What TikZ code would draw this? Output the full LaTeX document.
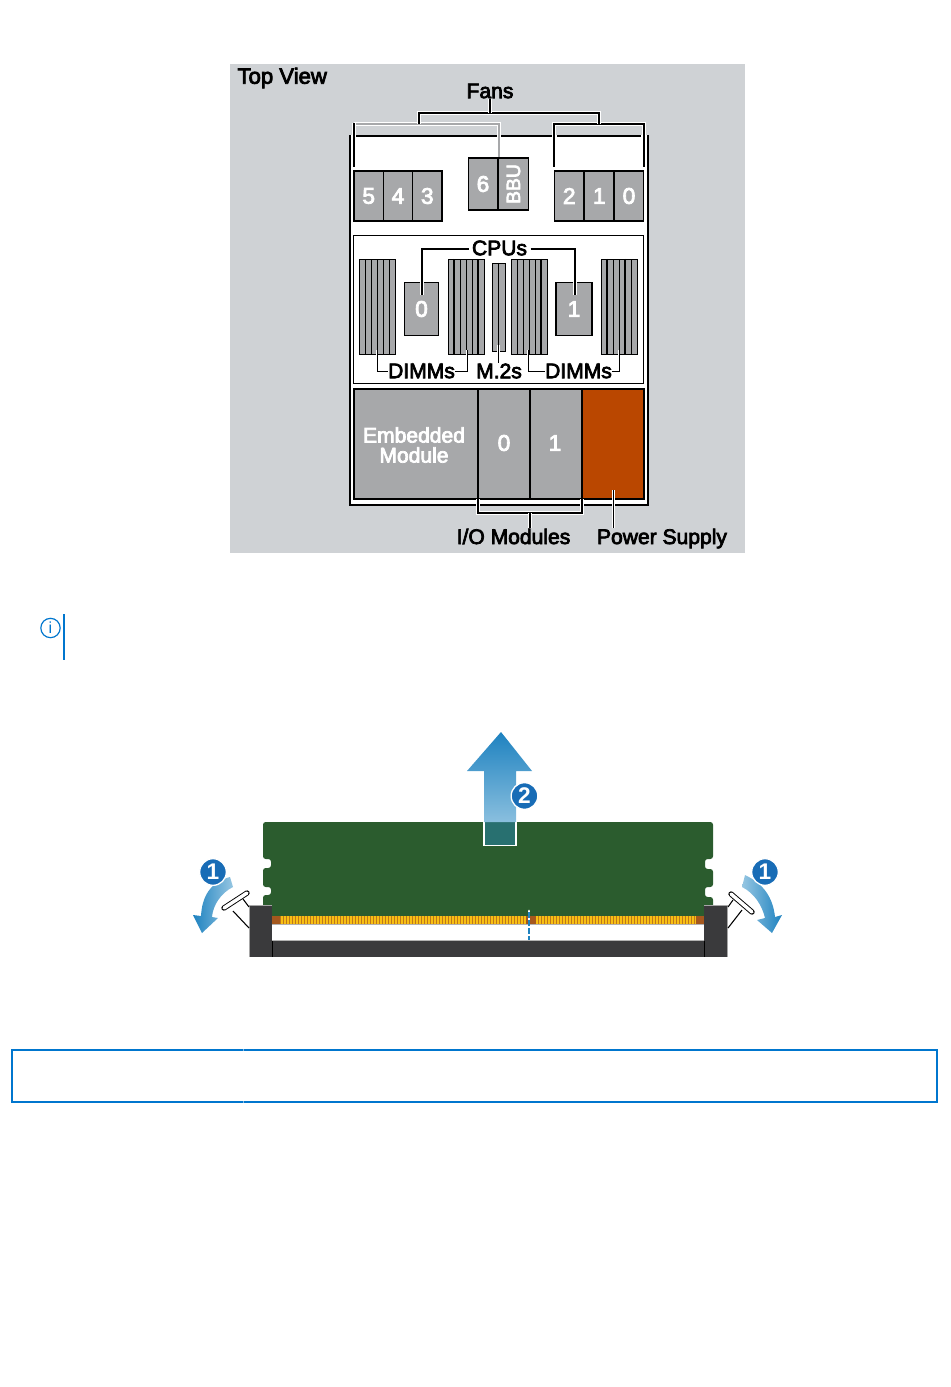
\documentclass[tikz,border=0pt]{standalone}
\usepackage{fontspec}
\setmainfont{Liberation Sans}
\newfontfamily\heavyfont{Liberation Sans}[FakeBold=3.5]
\definecolor{panelgray}{RGB}{207,210,213}
\definecolor{modgray}{RGB}{167,168,170}
\definecolor{psuorange}{RGB}{186,71,0}
\definecolor{infoblue}{RGB}{0,118,206}
\definecolor{badgeblue}{RGB}{24,108,182}
\definecolor{arrowblue}{RGB}{30,130,192}
\definecolor{arrowlight}{RGB}{150,198,226}
\definecolor{dimmgreen}{RGB}{43,92,46}
\definecolor{liftteal}{RGB}{40,112,112}
\definecolor{slotdark}{RGB}{58,58,60}
\definecolor{contactgold}{RGB}{248,192,20}
\definecolor{contactbrown}{RGB}{165,88,30}
\tikzset{every picture/.style={line width=0.75pt}}
\tikzset{
  lbl/.style={inner sep=0pt,font=\heavyfont\fontsize{15.8}{15}\selectfont},
  numlbl/.style={text=white,font=\heavyfont\fontsize{17}{17}\selectfont},
  modbox/.style={draw=black,fill=modgray,line width=0.9pt,inner sep=0pt,minimum width=#1},
  modbox/.default=22pt,
  leader/.style={draw=white,double=black,double distance=1.1pt,line width=0.7pt},
  leadergray/.style={draw=white,double=modgray,double distance=2.2pt,line width=0.7pt},
  badge/.style={circle,fill=badgeblue,draw=white,line width=1pt,minimum size=20pt,inner sep=0pt,text=white,font=\bfseries\fontsize{17}{17}\selectfont},
  strip/.style={draw=black,fill=modgray,line width=0.6pt},
  latch/.style={draw=black,double=white,double distance=2.6pt,line width=0.7pt,line cap=round},
}
\begin{document}
\begin{tikzpicture}[x=0.75pt,y=0.75pt,yscale=-1,xscale=1]
\useasboundingbox (0,0) rectangle (950,1387);

%Top view panel
\fill[panelgray] (230,64) rectangle (745,553);
\fill[white] (350,135) rectangle (648,505);
\draw[line width=2.2pt] (356,136) -- (497,136) (501,136) -- (552,136) (557,136) -- (641,136);
\draw[line width=2.2pt] (350,135) -- (350,505) -- (648,505) -- (648,135);

%Fan modules
\node (fanFive) [modbox,minimum height=37.5pt] at (368.7,196) {};
\node (fanFour) [modbox,minimum height=37.5pt] at (398,196) {};
\node (fanThree) [modbox,minimum height=37.5pt] at (427.3,196) {};
\node (fanSix) [modbox,minimum height=39pt] at (483,184) {};
\node (bbu) [modbox,minimum height=39pt,minimum width=23pt] at (513.5,184) {};
\node (fanTwo) [modbox,minimum height=37.5pt] at (569.3,196) {};
\node (fanOne) [modbox,minimum height=37.5pt] at (599.3,196) {};
\node (fanZero) [modbox,minimum height=37.5pt] at (629,196) {};
\draw[line width=1.4pt] (354,221) -- (442,221) (554,221) -- (643.5,221) (498,158) -- (498,210);
\node[numlbl] at (fanFive) {5};
\node[numlbl] at (fanFour) {4};
\node[numlbl] at (fanThree) {3};
\node[numlbl] at (fanSix) {6};
\node[numlbl,rotate=90,font=\heavyfont\fontsize{14.5}{15}\selectfont] at (bbu) {BBU};
\node[numlbl] at (fanTwo) {2};
\node[numlbl] at (fanOne) {1};
\node[numlbl] at (fanZero) {0};

%CPU and memory area
\draw[fill=white,line width=0.75pt] (353.5,235.5) rectangle (643.5,383.5);
\foreach \xa in {359,448,511,601}{
  \foreach \i in {0,...,5}
    \draw[strip] ({\xa+\i*6.1},259) rectangle ++(6.1,95);
}
\draw[line width=1.2pt] (453.5,259) -- (453.5,354) (477.5,259) -- (477.5,354) (541,259) -- (541,354) (607,259) -- (607,354) (625,259) -- (625,354);
\draw[strip] (492,263) rectangle (505,351);
\draw[line width=1.2pt] (498.5,263) -- (498.5,351);
\node (cpuZero) [modbox=26pt,minimum height=40pt] at (421.5,309) {};
\node (cpuOne) [modbox=27pt,minimum height=40pt] at (574,309) {};
\node[numlbl] at (421.5,309) {0};
\node[numlbl] at (574,309) {1};

%Lower module row
\fill[modgray] (354,389) rectangle (582,499);
\fill[psuorange] (582,389) rectangle (644,499);
\draw[line width=1.1pt] (354,389) rectangle (644,499);
\draw[line width=1.1pt] (478,389) -- (478,499) (530,389) -- (530,499) (582,389) -- (582,499);
\node[lbl,text=white,align=center] (embedded) at (414,445) {Embedded\\Module};
\node[numlbl] (ioZero) at (504,443) {0};
\node[numlbl] (ioOne) at (555,443) {1};
\coordinate (psuEnd) at (613.5,490);

%Fan leaders
\coordinate (fansBar) at (490,113);
\coordinate (fansL) at (419,124);
\coordinate (fansR) at (599,124);
\coordinate (sixEnd) at (499,157);
\draw[leadergray] (sixEnd) |- (354,124);
\draw[leader,double distance=1.5pt] (354,167) -- (354,123);
\draw[leader] (554,167) |- (644,124) -- (644,167);
\draw[leader] (fansL) |- (fansBar) -| (fansR);

%Labels
\node[lbl,anchor=west,font=\heavyfont\fontsize{16.6}{15}\selectfont] (topview) at (237,78) {Top View};
\node[lbl] (fans) at (490,91) {Fans};
\node[lbl] (cpus) at (499.5,248) {CPUs};
\node[lbl] (dimmsL) at (421.5,371) {DIMMs};
\node[lbl] (m2s) at (499,371) {M.2s};
\node[lbl] (dimmsR) at (578.5,371) {DIMMs};
\node[lbl,anchor=base] (iomods) at (513.5,544) {I/O Modules};
\node[lbl,anchor=base] (psu) at (662,544) {Power Supply};
\draw[leader] (fansBar) -- (fans.south);

%CPU and DIMM leaders
\draw[leader] (cpus.west) ++(-3,1) -| (422,295);
\draw[leader] (cpus.east) ++(3,1) -| (575,295);
\draw[leader,double distance=0.7pt] (377,350) |- (dimmsL.west);
\draw[leader,double distance=0.7pt] (467,350) |- (dimmsL.east);
\draw[leader,double distance=0.7pt] (528,350) |- (dimmsR.west);
\draw[leader,double distance=0.7pt] (619,350) |- (dimmsR.east);
\draw[leader,double distance=0.7pt] (498.5,345) -- (m2s.north -| 498.5,0);

%Module leaders
\draw[leader] (478,499) |- (582,513) -- (582,499);
\draw[leader] (530,513) -- (530,528);
\draw[leader] (psuEnd) -- (613.5,528);

%Note icon
\node (infoicon) [circle,draw=infoblue,line width=0.9pt,minimum size=14.5pt,inner sep=0pt,text=infoblue,font=\fontsize{12}{12}\selectfont] at (50.5,628) {i};
\draw[infoblue,line width=1.5pt] (64,614) -- (64,660);

%Memory module
\fill[dimmgreen,rounded corners=2pt] (263,916) -- (263,895) -- (271,895) -- (271,887) -- (263,887) -- (263,868) -- (271,868) -- (271,859) -- (263,859) -- (263,822) -- (713,822) -- (713,859) -- (705,859) -- (705,869) -- (713,869) -- (713,887) -- (705,887) -- (705,897) -- (713,897) -- (713,916) -- cycle;
\fill[contactgold] (271,916) rectangle (705,924);
\foreach \xb in {280,283,...,695}
  \draw[contactbrown!70!contactgold,line width=0.3pt] (\xb,916) -- (\xb,924);
\fill[contactbrown] (271,916) rectangle (280,924);
\fill[contactbrown] (696,916) rectangle (705,924);
\fill[contactbrown] (526,916) rectangle (536,924);
\draw[gray!60,line width=0.6pt] (271,924.5) -- (705,924.5);
\draw[white,line width=2.2pt,line cap=round] (529,911) -- (529,925);
\draw[arrowblue,line width=1pt,dash pattern=on 4.5pt off 1.5pt] (529,912) -- (529,941);

%Slot
\fill[slotdark] (249,941) rectangle (727,957);
\draw[gray!60,line width=0.6pt] (271,940.8) -- (705,940.8);
\fill[slotdark] (249,905) rectangle (272,957);
\fill[slotdark] (704,905) rectangle (727,957);
\draw[gray!70,line width=0.5pt] (249,957) -- (249,905) -- (272,905);
\draw[gray!70,line width=0.5pt] (704,905) -- (727,905) -- (727,957);
\draw[black,line width=0.5pt] (272,941) -- (272,957) (704,941) -- (704,957);

%Latches
\draw[line width=0.8pt] (243,899) -- (249,907) (233,911) -- (249,928);
\draw[latch] (247,893) -- (224,908);
\draw[line width=0.8pt] (733,900) -- (728,907) (742,910) -- (728,928);
\draw[latch] (731,894) -- (752,912);

%Curved arrows
\shade[left color=arrowblue,right color=arrowlight] (230,877) .. controls (210,882) and (202,897) .. (201,916) -- (193,915) -- (202,933) -- (218,918) -- (212,917) .. controls (213,905) and (221,893) .. (233,887) -- cycle;
\shade[left color=arrowlight,right color=arrowblue] (745,875) .. controls (764,884) and (773,898) .. (775,917) -- (782,915) -- (772,933) -- (757,920) -- (765,918) .. controls (762,905) and (754,893) .. (742,887) -- cycle;
\node (badgeL) [badge] at (213,872) {1};
\node (badgeR) [badge] at (765,872) {1};

%Lift arrow
\fill[liftteal] (484,822) rectangle (516,845);
\draw[white,line width=1.1pt] (484,822) -- (484,845.5) -- (516,845.5) -- (516,822);
\shade[top color=arrowblue,bottom color=arrowlight!90!arrowblue] (501,732) -- (532,771) -- (516,771) -- (516,822) -- (484,822) -- (484,771) -- (467,771) -- cycle;
\node (badgeUp) [badge] at (524.5,796) {2};

%Table frame
\draw[infoblue,line width=1.5pt] (12,1050) rectangle (937,1102);
\draw[infoblue!50,line width=0.5pt] (243,1049) -- (243,1051) (243,1101) -- (243,1103);

\end{tikzpicture}
\end{document}
